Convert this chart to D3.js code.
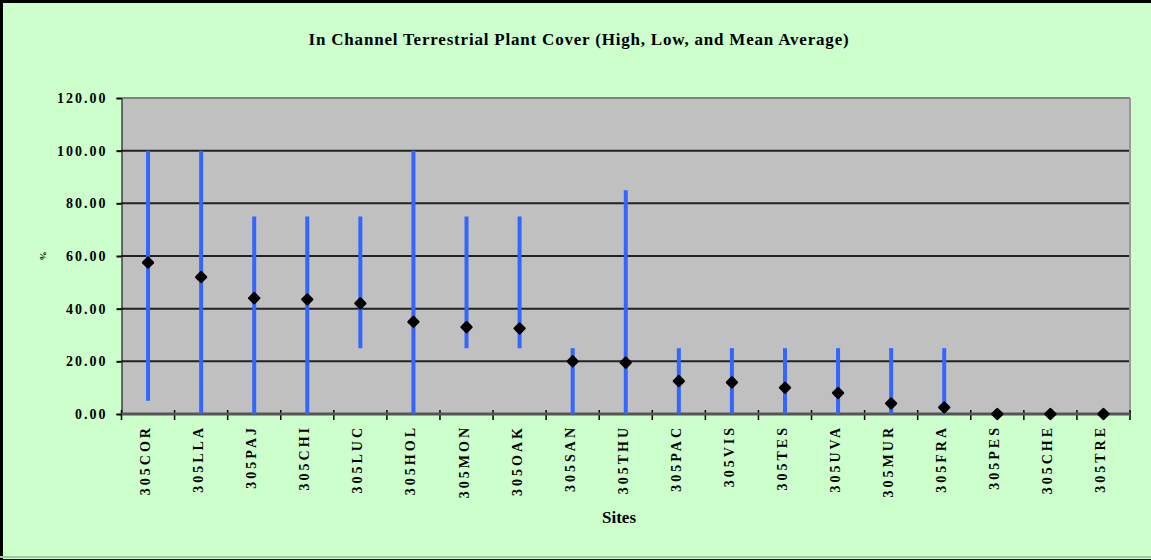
<!DOCTYPE html>
<html><head><meta charset="utf-8">
<script src="https://cdn.jsdelivr.net/npm/d3@7"></script>
<style>html,body{margin:0;padding:0;background:#CCFFCC;}svg{display:block;} text{font-family:"Liberation Serif","DejaVu Serif","Times New Roman",serif;}</style>
</head><body>
<script>
const sites = ["305COR","305LLA","305PAJ","305CHI","305LUC","305HOL","305MON","305OAK","305SAN","305THU","305PAC","305VIS","305TES","305UVA","305MUR","305FRA","305PES","305CHE","305TRE"];
const highs = [100,100,75,75,75,100,75,75,25,85,25,25,25,25,25,25,0,0,0];
const lows  = [5,0,0,0,25,0,25,25,0,0,0,0,0,0,0,0,0,0,0];
const means = [57.5,52,44,43.5,42,35,33,32.5,20,19.5,12.5,12,10,8,4,2.5,0,0,0];
const yTicks = [0,20,40,60,80,100,120];

(function(){
const FF='"Liberation Serif","DejaVu Serif",serif';
const W=1151,H=560;
const svg=d3.select("body").append("svg").attr("width",W).attr("height",H);
svg.append("rect").attr("width",W).attr("height",H).attr("fill","#CCFFCC");
// frame
svg.append("line").attr("x1",1.5).attr("x2",1.5).attr("y1",0).attr("y2",H).attr("stroke","#000").attr("stroke-width",3);
svg.append("line").attr("x1",0).attr("x2",W).attr("y1",1.5).attr("y2",1.5).attr("stroke","#000").attr("stroke-width",3);
svg.append("line").attr("x1",0).attr("x2",W).attr("y1",557).attr("y2",557).attr("stroke","#99CC99").attr("stroke-width",2);
svg.append("line").attr("x1",0).attr("x2",W).attr("y1",559.5).attr("y2",559.5).attr("stroke","#000").attr("stroke-width",1);

const pL=121.5,pR=1130,pT=98,pB=414;
const x=d3.scaleBand().domain(sites).range([pL,pR]);
const y=d3.scaleLinear().domain([0,120]).range([pB,pT]);

svg.append("rect").attr("x",pL).attr("y",pT).attr("width",pR-pL).attr("height",pB-pT).attr("fill","#C0C0C0");
// gridlines
svg.append("g").selectAll("line").data(yTicks.filter(d=>d>0)).join("line")
  .attr("x1",pL).attr("x2",pR).attr("y1",d=>y(d)).attr("y2",d=>y(d))
  .attr("stroke",d=>d===120?"#808080":"#222").attr("stroke-width",2);
// right border
svg.append("line").attr("x1",pR).attr("x2",pR).attr("y1",pT).attr("y2",pB).attr("stroke","#999").attr("stroke-width",2);

// y axis
const ya=svg.append("g").attr("transform",`translate(${pL},0)`)
  .call(d3.axisLeft(y).tickValues(yTicks).tickFormat(d3.format(".2f")).tickSize(5).tickPadding(9));
ya.select(".domain").attr("stroke","#000").attr("stroke-width",1);
ya.selectAll(".tick line").attr("stroke","#000").attr("stroke-width",2);
ya.selectAll("text").style("font-family",FF).attr("font-weight","bold").attr("font-size",14).attr("fill","#000").attr("letter-spacing","2px");

// x axis ticks at band edges
const edges=sites.map(s=>x(s)).concat([pR]);
svg.append("g").selectAll("line").data(edges).join("line")
  .attr("x1",d=>d).attr("x2",d=>d).attr("y1",pB-4).attr("y2",pB+6)
  .attr("stroke","#000").attr("stroke-width",1.5);
svg.append("line").attr("x1",pL).attr("x2",pR).attr("y1",pB).attr("y2",pB).attr("stroke","#555").attr("stroke-width",3);

// x labels
svg.append("g").selectAll("text").data(sites).join("text")
  .attr("transform",s=>`translate(${x(s)+x.bandwidth()/2+2},425) rotate(-90)`)
  .attr("text-anchor","end").style("font-family",FF).attr("font-weight","bold")
  .attr("font-size",14).attr("letter-spacing","3px").attr("fill","#000").text(s=>s);

// range lines
const cx=s=>x(s)+x.bandwidth()/2;
svg.append("g").selectAll("line").data(sites.map((s,i)=>({s,hi:highs[i],lo:lows[i]})).filter(d=>d.hi>d.lo)).join("line")
  .attr("x1",d=>cx(d.s)).attr("x2",d=>cx(d.s)).attr("y1",d=>y(d.hi)).attr("y2",d=>y(d.lo))
  .attr("stroke","#3366FF").attr("stroke-width",4);
// means
svg.append("g").selectAll("path").data(sites.map((s,i)=>({s,m:means[i]}))).join("path")
  .attr("transform",d=>`translate(${cx(d.s)},${y(d.m)}) rotate(45)`)
  .attr("d",d3.symbol(d3.symbolSquare,48))
  .attr("fill","#000").attr("stroke","#000").attr("stroke-width",2.5).attr("stroke-linejoin","round");

// titles
svg.append("text").attr("x",579).attr("y",45).attr("text-anchor","middle")
  .style("font-family",FF).attr("font-weight","bold").attr("font-size",17).attr("letter-spacing","0.8px").attr("fill","#000")
  .text("In Channel Terrestrial Plant Cover (High, Low, and Mean Average)");
svg.append("text").attr("x",619).attr("y",523).attr("text-anchor","middle")
  .style("font-family",FF).attr("font-weight","bold").attr("font-size",17).attr("fill","#000").text("Sites");
svg.append("text").attr("transform","translate(46,256) rotate(-90)").attr("text-anchor","middle")
  .style("font-family",FF).attr("font-weight","bold").attr("font-size",9).attr("fill","#000").text("%");
})();
</script>
</body></html>
